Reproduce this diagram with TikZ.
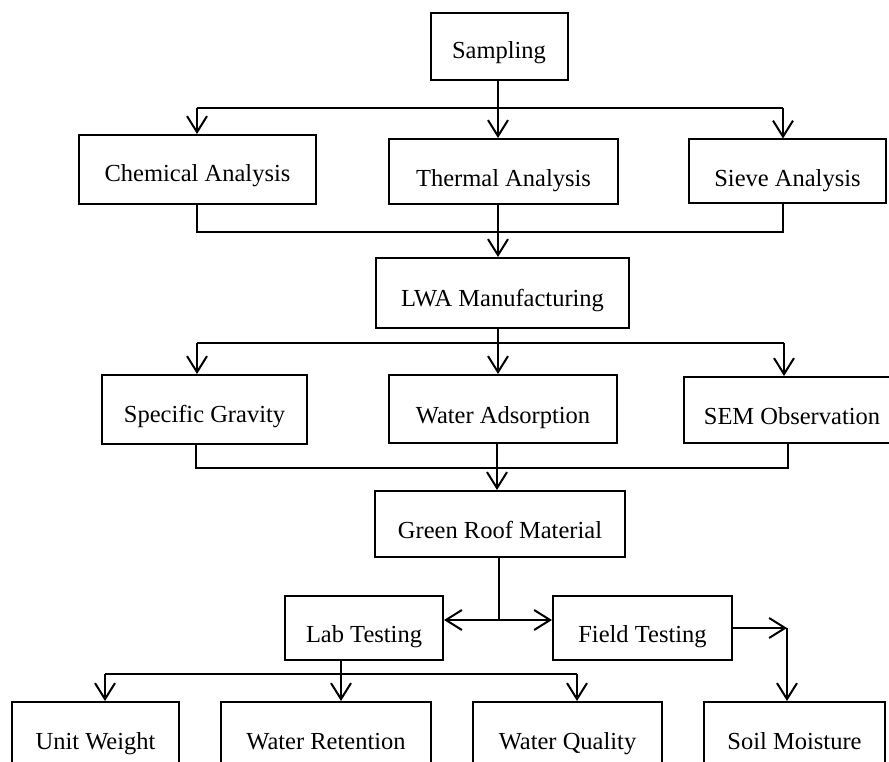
\documentclass[tikz,border=0pt]{standalone}
\usepackage{fontspec}
\setmainfont{Liberation Serif}
\usetikzlibrary{arrows.meta}
\begin{document}
\begin{tikzpicture}[x=1pt,y=-1pt,
  box/.style={draw,line width=2pt,inner sep=0pt,font=\fontsize{24.5}{28}\selectfont},
  conn/.style={line width=2pt},
  arr/.style={conn,-{Straight Barb[length=16pt,width=20pt]}}]
\useasboundingbox (0,0) rectangle (889,762);
% boxes
\node[box,minimum width=137pt,minimum height=67pt,text height=32.5pt,text depth=7.5pt] (samp) at (499,46.5) {Sampling};
\node[box,minimum width=237pt,minimum height=69pt,text height=32.5pt,text depth=7.5pt] (chem) at (197.5,169.5) {Chemical Analysis};
\node[box,minimum width=229pt,minimum height=65pt,text height=35.5pt,text depth=4.5pt] (therm) at (503.5,171.5) {Thermal Analysis};
\node[box,minimum width=197pt,minimum height=64pt,text height=35.5pt,text depth=4.5pt] (sieve) at (787.5,171.5) {Sieve Analysis};
\node[box,minimum width=253pt,minimum height=70pt,text height=33pt,text depth=7pt] (lwa) at (502.5,293) {LWA Manufacturing};
\node[box,minimum width=205pt,minimum height=69pt,text height=33pt,text depth=7pt] (sg) at (204.5,409.5) {Specific Gravity};
\node[box,minimum width=228pt,minimum height=68pt,text height=34pt,text depth=6pt] (wa) at (503,409) {Water Adsorption};
\node[box,minimum width=216pt,minimum height=66pt,text height=34pt,text depth=6pt] (sem) at (792,410) {SEM Observation};
\node[box,minimum width=250pt,minimum height=66pt,text height=34.5pt,text depth=5.5pt] (gr) at (500,524) {Green Roof Material};
\node[box,minimum width=158pt,minimum height=64pt,text height=34pt,text depth=6pt] (lab) at (364,628) {Lab Testing};
\node[box,minimum width=179pt,minimum height=64pt,text height=34pt,text depth=6pt] (field) at (642.5,628) {Field Testing};
\node[box,minimum width=167pt,minimum height=80pt,text height=27pt,text depth=13pt] (uw) at (95.5,742) {Unit Weight};
\node[box,minimum width=210pt,minimum height=80pt,text height=27pt,text depth=13pt] (wr) at (326,742) {Water Retention};
\node[box,minimum width=189pt,minimum height=80pt,text height=27pt,text depth=13pt] (wq) at (567.5,742) {Water Quality};
\node[box,minimum width=181pt,minimum height=80pt,text height=27pt,text depth=13pt] (sm) at (794.5,742) {Soil Moisture};
% junction points
\coordinate (a0) at (498,108);
\coordinate (a1) at (197,108);
\coordinate (a2) at (783,108);
\coordinate (b0) at (498,232);
\coordinate (b1) at (197,232);
\coordinate (b2) at (783,232);
\coordinate (c0) at (498,343);
\coordinate (c1) at (197,343);
\coordinate (c2) at (784,343);
\coordinate (d0) at (497,468);
\coordinate (d1) at (196,468);
\coordinate (d2) at (788,468);
\coordinate (e0) at (499,620);
\coordinate (f0) at (787,628);
\coordinate (g0) at (341,674);
\coordinate (g1) at (105,674);
\coordinate (g2) at (577,674);
% Sampling -> analyses
\draw[conn] (samp.south -| a0) -- (a0);
\draw[conn] (a1) -- (a2);
\draw[arr] (a1) -- (a1 |- chem.north);
\draw[arr] (a0) -- (a0 |- therm.north);
\draw[arr] (a2) -- (a2 |- sieve.north);
% analyses -> LWA
\draw[conn] (chem.south -| b1) -- (b1) -- (b2) -- (sieve.south -| b2);
\draw[conn] (therm.south -| b0) -- (b0);
\draw[arr] (b0) -- (b0 |- lwa.north);
% LWA -> properties
\draw[conn] (lwa.south -| c0) -- (c0);
\draw[conn] (c1) -- (c2);
\draw[arr] (c1) -- (c1 |- sg.north);
\draw[arr] (c0) -- (c0 |- wa.north);
\draw[arr] (c2) -- (c2 |- sem.north);
% properties -> Green roof
\draw[conn] (sg.south -| d1) -- (d1) -- (d2) -- (sem.south -| d2);
\draw[conn] (wa.south -| d0) -- (d0);
\draw[arr] (d0) -- (d0 |- gr.north);
% Green roof -> testing
\draw[conn] (gr.south -| e0) -- (e0);
\draw[arr] (e0) -- (e0 -| lab.east);
\draw[arr] (e0) -- (e0 -| field.west);
% Field -> soil moisture
\draw[arr] (field.east |- f0) -- (f0);
\draw[arr] (f0) -- (f0 |- sm.north);
% Lab -> tests
\draw[conn] (lab.south -| g0) -- (g0);
\draw[conn] (g1) -- (g2);
\draw[arr] (g1) -- (g1 |- uw.north);
\draw[arr] (g0) -- (g0 |- wr.north);
\draw[arr] (g2) -- (g2 |- wq.north);
\end{tikzpicture}
\end{document}
